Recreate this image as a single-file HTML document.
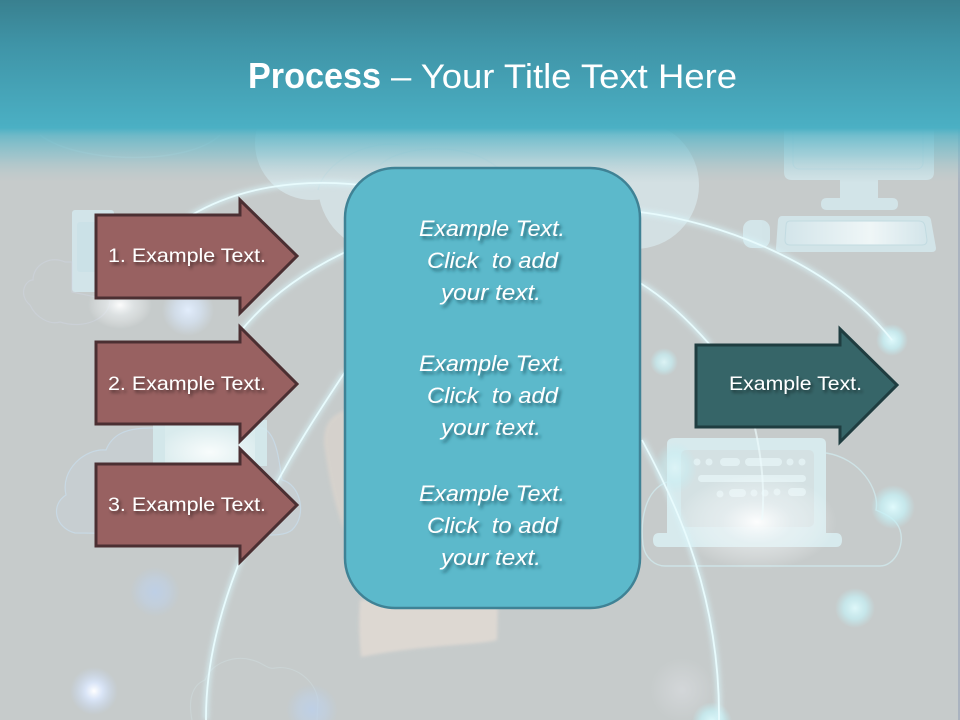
<!DOCTYPE html>
<html lang="en">
<head>
<meta charset="utf-8">
<title>Process</title>
<style>
html,body{margin:0;padding:0;background:#c6cbcb}
svg{display:block}
text{font-family:"Liberation Sans",sans-serif;fill:#fff}
</style>
</head>
<body>
<svg xmlns="http://www.w3.org/2000/svg" width="960" height="720" viewBox="0 0 960 720">
<defs>
<linearGradient id="head" x1="0" y1="0" x2="0" y2="1">
<stop offset="0" stop-color="#39808f"/><stop offset="0.35" stop-color="#3f94a7"/><stop offset="1" stop-color="#4bb0c4"/>
</linearGradient>
<linearGradient id="fade" x1="0" y1="0" x2="0" y2="1">
<stop offset="0" stop-color="#4bb0c4" stop-opacity="1"/>
<stop offset="0.14" stop-color="#5ab5c7" stop-opacity=".8"/>
<stop offset="0.5" stop-color="#7cbecb" stop-opacity=".55"/>
<stop offset="0.85" stop-color="#a8c6cc" stop-opacity=".2"/>
<stop offset="1" stop-color="#b8c8cc" stop-opacity="0"/>
</linearGradient>
<radialGradient id="gWhite"><stop offset="0" stop-color="#fff" stop-opacity=".95"/><stop offset=".45" stop-color="#f2f6f8" stop-opacity=".5"/><stop offset="1" stop-color="#fff" stop-opacity="0"/></radialGradient>
<radialGradient id="gBlue"><stop offset="0" stop-color="#e2edfc" stop-opacity="1"/><stop offset=".5" stop-color="#d8e6f8" stop-opacity=".65"/><stop offset="1" stop-color="#d5e4f6" stop-opacity="0"/></radialGradient>
<radialGradient id="gBlueD"><stop offset="0" stop-color="#bcd0ea" stop-opacity=".85"/><stop offset=".55" stop-color="#bfd2ea" stop-opacity=".5"/><stop offset="1" stop-color="#b8cde6" stop-opacity="0"/></radialGradient>
<radialGradient id="gStar"><stop offset="0" stop-color="#fff" stop-opacity="1"/><stop offset=".35" stop-color="#dce8fc" stop-opacity=".9"/><stop offset="1" stop-color="#c6d8f4" stop-opacity="0"/></radialGradient>
<radialGradient id="gCyan"><stop offset="0" stop-color="#e0fafc" stop-opacity="1"/><stop offset=".55" stop-color="#c6f1f6" stop-opacity=".75"/><stop offset="1" stop-color="#bfeef4" stop-opacity="0"/></radialGradient>
<radialGradient id="gGrey"><stop offset="0" stop-color="#d6d9dc" stop-opacity=".8"/><stop offset="1" stop-color="#d6d9dc" stop-opacity="0"/></radialGradient>
<radialGradient id="gTab" cx=".5" cy=".7" r=".6"><stop offset="0" stop-color="#f8fcfc"/><stop offset="1" stop-color="#d9ebed"/></radialGradient>
<linearGradient id="kb" x1="0" y1="0" x2="1" y2="0"><stop offset="0" stop-color="#d3e5ea"/><stop offset=".6" stop-color="#eff6f7"/><stop offset="1" stop-color="#d3e5ea"/></linearGradient>
<filter id="glow" x="-20%" y="-20%" width="140%" height="140%"><feGaussianBlur stdDeviation="2.5"/></filter>
<filter id="soft1" x="-20%" y="-20%" width="140%" height="140%"><feGaussianBlur stdDeviation="1.5"/></filter>
<filter id="shadow" x="-10%" y="-30%" width="120%" height="170%"><feDropShadow dx="2" dy="2.5" stdDeviation="1.6" flood-color="#000" flood-opacity=".5"/></filter>
<filter id="shadowP" x="-10%" y="-30%" width="120%" height="170%"><feDropShadow dx="2.5" dy="3" stdDeviation="1.5" flood-color="#1d5a68" flood-opacity=".85"/></filter>
</defs>

<rect width="960" height="720" fill="#c6cbcb"/>
<rect x="958" y="0" width="2" height="720" fill="#aab3c0"/>

<!-- hand -->
<path d="M345 410 C330 416 323 425 324 445 C328 470 332 500 345 532 Z" fill="#dbd4cd" opacity=".75" filter="url(#soft1)"/>
<path d="M360 600 L498 600 L497 640 C480 645 420 645 361 657 Q358 630 360 600 Z" fill="#dfd9d3" opacity=".95" filter="url(#soft1)"/>

<!-- top center cloud -->
<g fill="#dcedf2" opacity=".62">
<circle cx="312" cy="143" r="57"/>
<circle cx="385" cy="185" r="67"/>
<circle cx="445" cy="190" r="60"/>
<circle cx="530" cy="180" r="62"/>
<circle cx="635" cy="185" r="64"/>
<rect x="350" y="120" width="280" height="128"/>
</g>
<path d="M318 190 C325 160 370 140 400 145 M380 165 C400 145 470 140 500 170" fill="none" stroke="#c5dde3" stroke-width="1.2" opacity=".7"/>
<path d="M40 135 C80 165 190 165 220 135" fill="none" stroke="#d5eaef" stroke-width="1.5" opacity=".35"/>

<!-- monitor -->
<g fill="#d6ebf0" opacity=".8">
<path d="M784 120 H934 V172 Q934 180 926 180 H878 V198 H892 Q898 198 898 204 Q898 210 892 210 H827 Q821 210 821 204 Q821 198 827 198 H840 V180 H792 Q784 180 784 172 Z"/>
<path d="M782 216 H926 Q930 216 931 220 L936 248 Q936 252 932 252 H780 Q776 252 776 248 L778 220 Q779 216 782 216 Z"/>
<rect x="743" y="220" width="27" height="28" rx="9"/>
</g>
<path d="M790 221 H919 Q924 221 925 226 L927 240 Q927 245 922 245 H790 Q785 245 785 240 L786 226 Q786 221 790 221 Z" fill="url(#kb)" stroke="#c2dbe1" stroke-width="1"/>
<rect x="793" y="125" width="130" height="44" rx="6" fill="none" stroke="#c4e0e7" stroke-width="1"/>

<!-- left phone -->
<rect x="72" y="210" width="42" height="82" rx="3" fill="#d3e9ee" opacity=".85"/>
<rect x="77" y="222" width="32" height="50" rx="3" fill="#c9e0e6" opacity=".8"/>
<!-- faint top-left cloud -->
<path d="M30 305 C18 295 25 280 33 280 C33 265 50 255 65 262 L72 262 L72 292 L110 300 C110 318 85 330 60 322 C50 325 36 318 30 305 Z" fill="none" stroke="#d0d6e4" stroke-width="1.2" opacity=".45"/>

<!-- lower-left cloud + tablet -->
<path d="M75 533 C55 528 50 505 66 495 C60 470 85 448 106 450 C112 435 125 428 150 428 H262 C278 432 280 470 282 480 C300 484 308 515 292 530 C285 536 270 535 260 535 Z" fill="#ccd8e4" fill-opacity=".25" stroke="#c9deee" stroke-width="1.2" stroke-opacity=".7"/>
<rect x="153" y="420" width="114" height="46" fill="#d5ebef" opacity=".85"/>
<rect x="165" y="420" width="90" height="46" fill="url(#gTab)"/>

<!-- bottom cloud -->
<path d="M192 720 C188 700 192 685 205 680 C212 662 235 655 252 660 C262 662 268 670 275 668 C295 665 315 680 318 700 L317 720" fill="none" stroke="#d0dde0" stroke-width="1.2" opacity=".5"/>

<!-- laptop cloud -->
<path d="M665 566 H880 C895 566 905 545 900 530 C896 518 885 514 876 510 C880 490 860 458 826 453 M667 482 C645 490 640 520 643 545 C645 558 655 566 665 566" fill="none" stroke="#cfe8ec" stroke-width="1.4" opacity=".8"/>
<!-- laptop -->
<g>
<path d="M675 438 H820 Q826 438 826 444 V533 H836 Q842 533 842 540 Q842 547 836 547 H659 Q653 547 653 540 Q653 533 659 533 H667 V444 Q667 438 675 438 Z" fill="#d8edf1" opacity=".9"/>
<rect x="681" y="450" width="133" height="77" rx="5" fill="#d4e1e3"/>
<g fill="#e2f0f2">
<circle cx="697" cy="462" r="3.5"/><circle cx="709" cy="462" r="3.5"/>
<rect x="720" y="458" width="20" height="8" rx="4"/>
<rect x="745" y="458" width="37" height="8" rx="4"/>
<circle cx="790" cy="462" r="3.5"/><circle cx="802" cy="462" r="3.5"/>
<rect x="698" y="475" width="108" height="7" rx="3.5"/>
<circle cx="720" cy="494" r="3.5"/>
<rect x="729" y="489" width="17" height="8" rx="4"/>
<circle cx="754" cy="493" r="3.5"/><circle cx="765" cy="493" r="3.5"/><circle cx="777" cy="492" r="3.5"/>
<rect x="788" y="488" width="18" height="8" rx="4"/>
</g>
</g>
<ellipse cx="757" cy="522" rx="80" ry="48" fill="url(#gWhite)"/>
<ellipse cx="675" cy="468" rx="22" ry="26" fill="url(#gCyan)" opacity=".6"/>

<!-- glows -->
<ellipse cx="120" cy="305" rx="32" ry="24" fill="url(#gWhite)"/>
<circle cx="188" cy="310" r="26" fill="url(#gBlue)"/>
<circle cx="155" cy="592" r="25" fill="url(#gBlueD)"/>
<circle cx="94" cy="691" r="24" fill="url(#gStar)"/>
<circle cx="312" cy="710" r="26" fill="url(#gBlueD)"/>
<circle cx="892" cy="340" r="16" fill="url(#gCyan)"/>
<circle cx="664" cy="362" r="14" fill="url(#gCyan)" opacity=".85"/>
<circle cx="893" cy="507" r="22" fill="url(#gCyan)"/>
<circle cx="855" cy="608" r="20" fill="url(#gCyan)" opacity=".95"/>
<circle cx="682" cy="690" r="32" fill="url(#gGrey)"/>
<circle cx="712" cy="722" r="20" fill="url(#gCyan)"/>

<!-- arcs -->
<g fill="none">
<g stroke="#d8f4f9" stroke-width="6" opacity=".6" filter="url(#glow)">
<path d="M190 216 C240 186 300 180 350 184 L640 212 C720 222 830 262 892 340"/>
<path d="M240 332 C270 295 310 268 350 250 M640 283 C665 298 690 322 711 346"/>
<path d="M345 372 C300 440 205 580 206 720"/>
<path d="M642 440 C680 510 720 600 719 720"/>
</g>
<g stroke="#e8fbfd" stroke-width="1.8">
<path d="M190 216 C240 186 300 180 350 184 L640 212 C720 222 830 262 892 340"/>
<path d="M240 332 C270 295 310 268 350 250 M640 283 C665 298 690 322 711 346"/>
<path d="M345 372 C300 440 205 580 206 720"/>
<path d="M642 440 C680 510 720 600 719 720"/>
</g>
<path d="M755 428 C762 460 765 490 762 520" stroke="#eefcfd" stroke-width="2" opacity=".65"/>
</g>

<!-- header -->
<rect x="0" y="128" width="960" height="55" fill="url(#fade)"/>
<rect x="0" y="0" width="960" height="128" fill="url(#head)"/>

<!-- title -->
<text x="248" y="88" font-size="36" font-weight="700" textLength="133" lengthAdjust="spacingAndGlyphs">Process</text>
<text x="391" y="88" font-size="34" textLength="346" lengthAdjust="spacingAndGlyphs">– Your Title Text Here</text>

<!-- arrows -->
<g fill="#986161" stroke="#4b2f32" stroke-width="3" stroke-linejoin="miter">
<path d="M96 215 H240 V200 L297 256 L240 313 V298 H96 Z"/>
<path d="M96 342 H240 V327 L297 384 L240 441 V424 H96 Z"/>
<path d="M96 464 H240 V449 L297 505 L240 562 V546 H96 Z"/>
</g>
<path d="M696 345 H840 V329 L897 385 L840 442 V427 H696 Z" fill="#366568" stroke="#1f3d40" stroke-width="3"/>

<g font-size="19.5" filter="url(#shadow)">
<text x="108" y="262" textLength="158" lengthAdjust="spacingAndGlyphs">1. Example Text.</text>
<text x="108" y="390" textLength="158" lengthAdjust="spacingAndGlyphs">2. Example Text.</text>
<text x="108" y="511" textLength="158" lengthAdjust="spacingAndGlyphs">3. Example Text.</text>
<text x="729" y="390" textLength="133" lengthAdjust="spacingAndGlyphs">Example Text.</text>
</g>

<!-- panel -->
<rect x="345" y="168" width="295" height="440" rx="50" ry="50" fill="#5cb9cb" stroke="#3f8295" stroke-width="2.5"/>
<g font-size="22.5" font-style="italic" filter="url(#shadowP)">
<text x="419" y="236" textLength="146" lengthAdjust="spacingAndGlyphs">Example Text.</text>
<text x="427" y="268" textLength="131" lengthAdjust="spacingAndGlyphs" xml:space="preserve">Click  to add</text>
<text x="441" y="300" textLength="100" lengthAdjust="spacingAndGlyphs">your text.</text>
<text x="419" y="371" textLength="146" lengthAdjust="spacingAndGlyphs">Example Text.</text>
<text x="427" y="403" textLength="131" lengthAdjust="spacingAndGlyphs" xml:space="preserve">Click  to add</text>
<text x="441" y="435" textLength="100" lengthAdjust="spacingAndGlyphs">your text.</text>
<text x="419" y="501" textLength="146" lengthAdjust="spacingAndGlyphs">Example Text.</text>
<text x="427" y="533" textLength="131" lengthAdjust="spacingAndGlyphs" xml:space="preserve">Click  to add</text>
<text x="441" y="565" textLength="100" lengthAdjust="spacingAndGlyphs">your text.</text>
</g>
</svg>
</body>
</html>
